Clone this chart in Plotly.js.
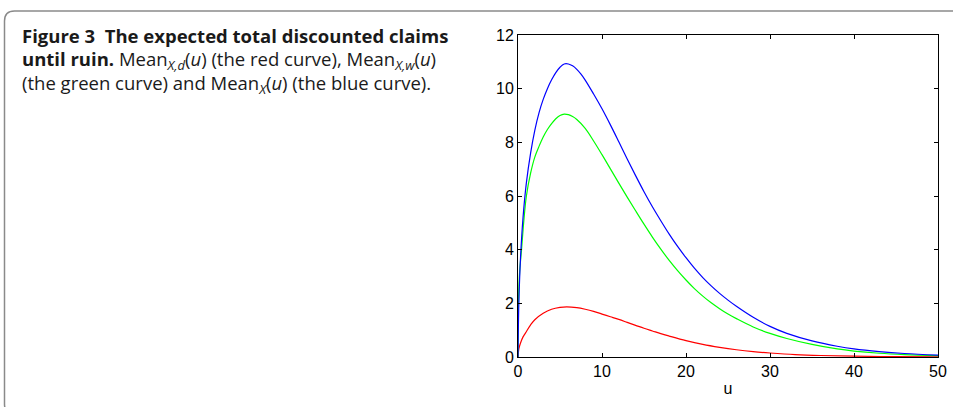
<!DOCTYPE html>
<html>
<head>
<meta charset="utf-8">
<script src="https://cdn.plot.ly/plotly-3.0.1.min.js"></script>
<style>html,body{margin:0;padding:0;background:#fff;}#chart{width:953px;height:407px;}</style>
</head>
<body>
<div id="chart"></div>
<script>
// ---- data ----
const uBlue = [0,0.1,0.3,0.6,1,1.5,2,2.5,3,3.5,4,4.5,5,5.5,6,6.5,7,7.5,8,9,10,11,12,13,14,15,16,17,18,19,20,21,22,23,24,25,26,28,30,32,35,38,40,43,46,50];
const meanX = [0,2,3.7,5.2,6.5,7.6,8.45,9.1,9.6,10.0,10.33,10.6,10.8,10.92,10.92,10.85,10.72,10.54,10.32,9.8,9.25,8.65,8.02,7.38,6.76,6.16,5.6,5.08,4.58,4.12,3.7,3.31,2.96,2.65,2.37,2.12,1.89,1.48,1.14,0.88,0.6,0.4,0.3,0.2,0.13,0.07];

const uGreen = [0,0.05,0.2,0.42,0.7,1,1.5,2,2.5,3,3.5,4,4.5,5,5.5,6,6.5,7,8,9,10,11,12,13,14,15,16,17,18,19,20,21,22,23,24,25,26,28,30,32,35,38,40,43,46,50];
const meanXw = [0,2,3.2,4,5.1,6,6.85,7.45,7.85,8.2,8.48,8.7,8.88,9.0,9.05,9.03,8.96,8.85,8.52,8.05,7.54,7.01,6.48,5.96,5.45,4.95,4.47,4.02,3.6,3.22,2.87,2.55,2.27,2.02,1.8,1.6,1.43,1.12,0.88,0.69,0.47,0.3,0.22,0.14,0.09,0.05];

const uRed = [0,0.1,0.3,0.6,0.9,1.5,2,3,4,5,5.8,7,8,9,10,11,12,13,14,15,16,17,18,20,22,24,26,28,30,33,36,40,45,50];
const meanXd = [0,0.3,0.52,0.75,0.9,1.2,1.39,1.63,1.78,1.85,1.87,1.84,1.78,1.70,1.60,1.50,1.40,1.29,1.18,1.07,0.97,0.87,0.78,0.61,0.47,0.36,0.27,0.2,0.15,0.09,0.055,0.03,0.015,0.008];

const xTicks = [0,10,20,30,40,50];
const yTicks = [0,2,4,6,8,10,12];

const captionLines = [
  "<b>Figure 3\u00a0 The expected total discounted claims</b>",
  "<b>until ruin.</b> Mean<sub><i>X,d</i></sub>(<i>u</i>) (the red curve), Mean<sub><i>X,w</i></sub>(<i>u</i>)",
  "(the green curve) and Mean<sub><i>X</i></sub>(<i>u</i>) (the blue curve)."
];

// ---- layout helpers (pixel -> paper) ----
const W = 953, H = 407;
const M = {l: 518, r: 15, t: 35, b: 50};
const pw = W - M.l - M.r, ph = H - M.t - M.b;
const PX = px => (px - M.l) / pw;
const PY = py => (H - M.b - py) / ph;

const lineStyle = c => ({color: c, width: 1.2, shape: 'spline', smoothing: 1});
const traces = [
  {x: uRed, y: meanXd, mode: 'lines', line: lineStyle('#ff0000'), hoverinfo: 'skip'},
  {x: uGreen, y: meanXw, mode: 'lines', line: lineStyle('#00ff00'), hoverinfo: 'skip'},
  {x: uBlue, y: meanX, mode: 'lines', line: lineStyle('#0000ff'), hoverinfo: 'skip'}
];

const capY = [36, 60, 84];
const annotations = captionLines.map((t, i) => ({
  text: t, xref: 'paper', yref: 'paper', x: PX(20), y: PY(capY[i]),
  xanchor: 'left', yanchor: 'middle', showarrow: false, align: 'left',
  font: {family: 'Open Sans', size: 18.5, color: '#1a1a1a'}
}));

const bx = 4.5, by = 11, bb = 414, rad = 10;
const borderPath = 'M ' + PX(960) + ',' + PY(by) +
  ' L ' + PX(bx + rad) + ',' + PY(by) +
  ' Q ' + PX(bx) + ',' + PY(by) + ' ' + PX(bx) + ',' + PY(by + rad) +
  ' L ' + PX(bx) + ',' + PY(bb - rad) +
  ' Q ' + PX(bx) + ',' + PY(bb) + ' ' + PX(bx + rad) + ',' + PY(bb) +
  ' L ' + PX(960) + ',' + PY(bb);

const axisCommon = {
  showgrid: false, zeroline: false, showline: true, linecolor: '#000', linewidth: 1,
  mirror: 'ticks', ticks: 'inside', ticklen: 4, tickwidth: 1, tickcolor: '#000',
  fixedrange: true
};

const TF = 16;
const layout = {
  width: W, height: H,
  margin: M,
  font: {family: 'Liberation Sans', size: TF, color: '#000'},
  paper_bgcolor: '#fff', plot_bgcolor: '#fff',
  showlegend: false,
  xaxis: Object.assign({}, axisCommon, {
    range: [0, 50], tickmode: 'array', tickvals: xTicks, ticktext: xTicks.map(String),
    tickfont: {family: 'Liberation Sans', size: TF, color: '#000'},
    title: {text: 'u', font: {family: 'Liberation Sans', size: TF, color: '#000'}, standoff: 3}
  }),
  yaxis: Object.assign({}, axisCommon, {
    range: [0, 12], tickmode: 'array', tickvals: yTicks, ticktext: yTicks.map(String),
    tickfont: {family: 'Liberation Sans', size: TF, color: '#000'}
  }),
  annotations: annotations,
  shapes: [{type: 'path', xref: 'paper', yref: 'paper', path: borderPath,
            line: {color: '#8a8a8a', width: 1.5}, layer: 'below'}]
};

Plotly.newPlot('chart', traces, layout, {displayModeBar: false, staticPlot: true});
</script>
</body>
</html>
